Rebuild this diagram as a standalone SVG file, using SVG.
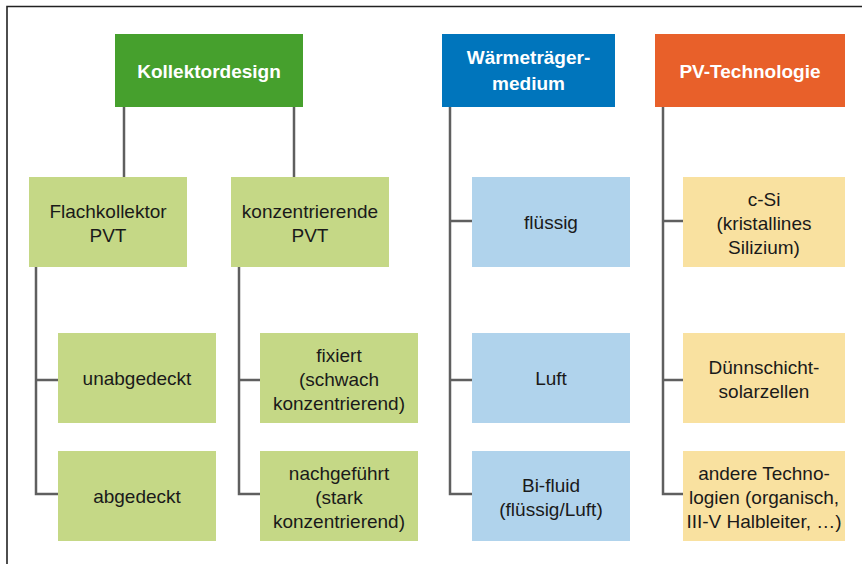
<svg xmlns="http://www.w3.org/2000/svg" width="862" height="564" viewBox="0 0 862 564">
<style>
.frame{fill:none;stroke:#222;stroke-width:1.6}
.c{fill:none;stroke:#5f5f5f;stroke-width:2.5}
.h{font-family:"Liberation Sans",Arial,sans-serif;font-weight:bold;font-size:19px;fill:#fff;text-anchor:middle}
.t{font-family:"Liberation Sans",Arial,sans-serif;font-size:19px;fill:#1a1a1a;text-anchor:middle}
.g{fill:#C5D886}.b{fill:#B0D3EC}.y{fill:#F9E1A0}
</style>
<rect width="862" height="564" fill="#fff"/>
<path class="frame" d="M7,564 V6.5 H862"/>
<g id="connectors">
<path class="c" d="M124,107 V177 M294,107 V177"/>
<path class="c" d="M36,267 V494 H58 M36,380 H58"/>
<path class="c" d="M239,267 V494 H260 M239,380 H260"/>
<path class="c" d="M450,107 V494 H472 M450,221 H472 M450,380 H472"/>
<path class="c" d="M663,107 V494 H683 M663,221 H683 M663,380 H683"/>
</g>
<g id="kollektordesign"><rect x="115" y="34" width="188" height="73" fill="#46A02D"/><text class="h" x="209" y="78">Kollektordesign</text></g>
<g id="waermetraeger"><rect x="442" y="34" width="173" height="73" fill="#0075BC"/><text class="h" x="528.5" y="64">Wärmeträger-</text><text class="h" x="528.5" y="90">medium</text></g>
<g id="pvtechnologie"><rect x="655" y="34" width="190" height="73" fill="#E8602A"/><text class="h" x="750" y="78">PV-Technologie</text></g>
<g id="flachkollektor"><rect class="g" x="29" y="177" width="158" height="90"/><text class="t" x="108" y="218">Flachkollektor</text><text class="t" x="108" y="242">PVT</text></g>
<g id="konzentrierende"><rect class="g" x="231" y="177" width="158" height="90"/><text class="t" x="310" y="218">konzentrierende</text><text class="t" x="310" y="242">PVT</text></g>
<g id="unabgedeckt"><rect class="g" x="58" y="333" width="158" height="90"/><text class="t" x="137" y="385">unabgedeckt</text></g>
<g id="abgedeckt"><rect class="g" x="58" y="451" width="158" height="90"/><text class="t" x="137" y="503">abgedeckt</text></g>
<g id="fixiert"><rect class="g" x="260" y="333" width="158" height="90"/><text class="t" x="339" y="362">fixiert</text><text class="t" x="339" y="386">(schwach</text><text class="t" x="339" y="410">konzentrierend)</text></g>
<g id="nachgefuehrt"><rect class="g" x="260" y="451" width="158" height="90"/><text class="t" x="339" y="480">nachgeführt</text><text class="t" x="339" y="504">(stark</text><text class="t" x="339" y="528">konzentrierend)</text></g>
<g id="fluessig"><rect class="b" x="472" y="177" width="158" height="90"/><text class="t" x="551" y="229">flüssig</text></g>
<g id="luft"><rect class="b" x="472" y="333" width="158" height="90"/><text class="t" x="551" y="385">Luft</text></g>
<g id="bifluid"><rect class="b" x="472" y="451" width="158" height="90"/><text class="t" x="551" y="492">Bi-fluid</text><text class="t" x="551" y="516">(flüssig/Luft)</text></g>
<g id="csi"><rect class="y" x="683" y="177" width="162" height="90"/><text class="t" x="764" y="206">c-Si</text><text class="t" x="764" y="230">(kristallines</text><text class="t" x="764" y="254">Silizium)</text></g>
<g id="duennschicht"><rect class="y" x="683" y="333" width="162" height="90"/><text class="t" x="764" y="374">Dünnschicht-</text><text class="t" x="764" y="398">solarzellen</text></g>
<g id="andere"><rect class="y" x="683" y="451" width="162" height="90"/><text class="t" x="764" y="480">andere Techno-</text><text class="t" x="764" y="504">logien (organisch,</text><text class="t" x="764" y="528">III-V Halbleiter, …)</text></g>
</svg>
